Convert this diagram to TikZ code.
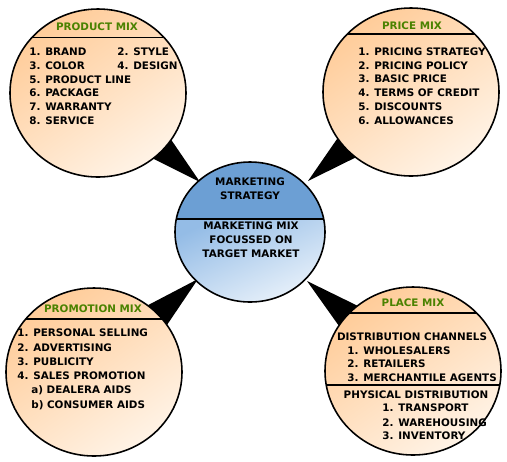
\documentclass[tikz,border=0pt]{standalone}
\usepackage{fontspec}
\setmainfont{DejaVu Sans}
\usetikzlibrary{calc}

\definecolor{peach}{HTML}{FFCC99}
\definecolor{peachlight}{HTML}{FFF3E6}
\definecolor{stratblue}{HTML}{6C9FD4}
\definecolor{mixblue}{HTML}{94BCE6}
\definecolor{mixlight}{HTML}{F0F6FC}
\definecolor{titlegreen}{HTML}{4A8200}

\tikzset{
  item/.style={anchor=west, inner sep=0pt, text height=4.3pt, text depth=0pt,
    font=\fontsize{5.9}{8}\selectfont\bfseries},
  mixtitle/.style={item, anchor=center, text=titlegreen},
  lens/.style={draw=black, line width=0.9pt, shade, top color=peach,
    bottom color=peachlight, shading angle=35},
  handle/.style={fill=black}
}

\begin{document}
\begin{tikzpicture}[x=0.02cm, y=-0.02cm]
    \def\rx{88}
    \def\ry{84}
    \useasboundingbox (0,0) rectangle (507,461);

    \coordinate (product) at (98,93);
    \coordinate (price) at (411,92);
    \coordinate (promotion) at (94,372);
    \coordinate (place) at (413,371);
    \coordinate (strategy) at (250,232);

    % Griffe
    \foreach \lens/\tip in {product/{200,182}, price/{308,181}, promotion/{198,279}, place/{307,281}}
    {
        \coordinate (spitze) at (\tip);
        \coordinate (fuss) at ($(spitze)!0.51!(\lens)$);
        \fill[handle] (spitze) -- ($(fuss)!0.36cm!90:(spitze)$) -- ($(fuss)!0.36cm!-90:(spitze)$) -- cycle;
    }

    % Lupen
    \foreach \lens in {product, price, promotion, place}
        \path[lens] (\lens) ellipse [x radius=\rx, y radius=\ry];

    % Trennlinien
    \foreach \lens/\linie in {product/37.5, price/34, promotion/319, place/313, place/385}
    {
        \begin{scope}
            \clip (\lens) ellipse [x radius=\rx, y radius=\ry];
            \draw[line width=0.9pt] (0,\linie) -- (507,\linie);
        \end{scope}
    }

    % Mitte
    \begin{scope}
        \clip (strategy) ellipse [x radius=75, y radius=70];
        \fill[stratblue] (170,150) rectangle (330,219);
        \shade[top color=mixblue, bottom color=mixlight, shading angle=25] (170,219) rectangle (330,310);
        \draw[line width=0.9pt] (170,219) -- (330,219);
    \end{scope}
    \draw[line width=0.9pt] (strategy) ellipse [x radius=75, y radius=70];
    \node [item, anchor=center, align=center] (strategytext) at (250,196) {MARKETING\\STRATEGY};
    \node [item, anchor=center, align=center] (mixtext) at (251,254) {MARKETING MIX\\FOCUSSED ON\\TARGET MARKET};

    % Titel
    \node [mixtitle] (producttitle) at (97,27) {PRODUCT MIX};
    \node [mixtitle] (pricetitle) at (412,26) {PRICE MIX};
    \node [mixtitle] (promotiontitle) at (93,309) {PROMOTION MIX};
    \node [mixtitle] (placetitle) at (413,303) {PLACE MIX};

    % Product mix
    \foreach \y/\txt in {52/1. BRAND, 66/3. COLOR, 80/5. PRODUCT LINE, 93/6. PACKAGE, 107/7. WARRANTY, 121/8. SERVICE}
        \node [item] (product-\y) at (29,\y) {\txt};
    \foreach \y/\txt in {52/2. STYLE, 66/4. DESIGN}
        \node [item] (productr-\y) at (117,\y) {\txt};

    % Price mix
    \foreach \y/\txt in {52/1. PRICING STRATEGY, 66/2. PRICING POLICY, 79/3. BASIC PRICE, 93/4. TERMS OF CREDIT, 107/5. DISCOUNTS, 121/6. ALLOWANCES}
        \node [item] (price-\y) at (358,\y) {\txt};

    % Promotion mix
    \foreach \y/\txt in {333/1. PERSONAL SELLING, 348/2. ADVERTISING, 362/3. PUBLICITY, 376/4. SALES PROMOTION}
        \node [item] (promotion-\y) at (17,\y) {\txt};
    \foreach \y/\txt in {390/a) DEALERA AIDS, 405/b) CONSUMER AIDS}
        \node [item] (promotionsub-\y) at (31,\y) {\txt};

    % Place mix
    \node [item, anchor=center] (channels) at (412,337) {DISTRIBUTION CHANNELS};
    \foreach \y/\txt in {351/1. WHOLESALERS, 364/2. RETAILERS, 378/3. MERCHANTILE AGENTS}
        \node [item] (place-\y) at (347,\y) {\txt};
    \node [item, anchor=center] (physical) at (416,395) {PHYSICAL DISTRIBUTION};
    \foreach \y/\txt in {408/1. TRANSPORT, 423/2. WAREHOUSING, 436/3. INVENTORY}
        \node [item] (placephys-\y) at (382,\y) {\txt};
\end{tikzpicture}
\end{document}
